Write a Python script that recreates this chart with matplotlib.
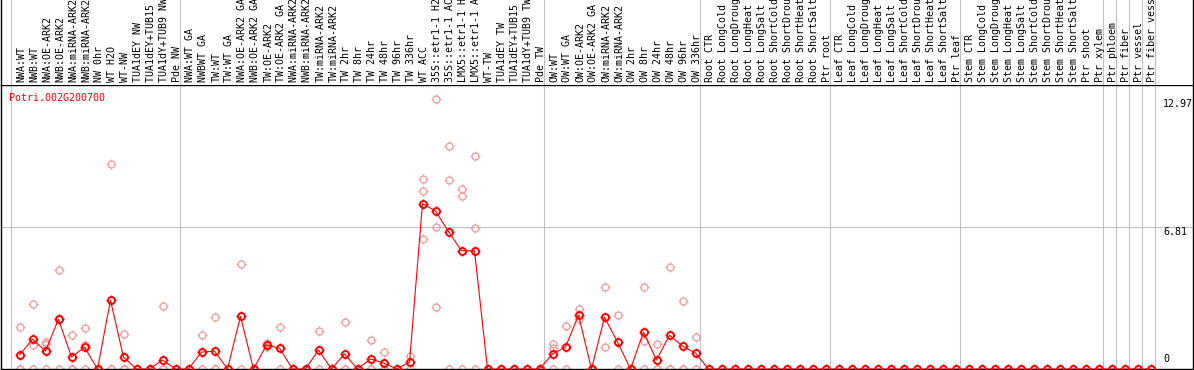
import numpy as np
import matplotlib
matplotlib.use("Agg")
import matplotlib.pyplot as plt
import matplotlib.transforms as mtransforms
from matplotlib.path import Path

# sample labels, one per column
labels = [
    "NWA:WT", "NWB:WT", "NWA:OE-ARK2", "NWB:OE-ARK2", "NWA:miRNA-ARK2", "NWB:miRNA-ARK2",
    "NW 0hr", "WT H2O", "WT-NW", "TUA1dEY NW", "TUA1dEY+TUB15 NW", "TUA1dY+TUB9 NW", "Pde NW",
    "NWA:WT GA", "NWBWT GA", "TW:WT", "TW:WT GA", "NWA:OE-ARK2 GA", "NWB:OE-ARK2 GA",
    "TW:OE-ARK2", "TW:OE-ARK2 GA", "NWA:miRNA-ARK2 GA", "NWB:miRNA-ARK2 GA", "TW:miRNA-ARK2",
    "TW:miRNA-ARK2", "TW 2hr", "TW 8hr", "TW 24hr", "TW 48hr", "TW 96hr", "TW 336hr", "WT ACC",
    "35S::etr1-1 H2O", "35S::etr1-1 ACC", "LMX5::etr1-1 H2O", "LMX5::etr1-1 ACC", "WT-TW",
    "TUA1dEY TW", "TUA1dEY+TUB15 TW", "TUA1dY+TUB9 TW", "Pde TW",
    "OW:WT", "OW:WT GA", "OW:OE-ARK2", "OW:OE-ARK2 GA", "OW:miRNA-ARK2", "OW:miRNA-ARK2",
    "OW 2hr", "OW 8hr", "OW 24hr", "OW 48hr", "OW 96hr", "OW 336hr",
    "Root CTR", "Root LongCold", "Root LongDrought", "Root LongHeat", "Root LongSalt",
    "Root ShortCold", "Root ShortDrought", "Root ShortHeat", "Root ShortSalt", "Ptr root",
    "Leaf CTR", "Leaf LongCold", "Leaf LongDrought", "Leaf LongHeat", "Leaf LongSalt",
    "Leaf ShortCold", "Leaf ShortDrought", "Leaf ShortHeat", "Leaf ShortSalt", "Ptr leaf",
    "Stem CTR", "Stem LongCold", "Stem LongDrought", "Stem LongHeat", "Stem LongSalt",
    "Stem ShortCold", "Stem ShortDrought", "Stem ShortHeat", "Stem ShortSalt", "Ptr shoot",
    "Ptr xylem", "Ptr phloem", "Ptr fiber", "Ptr vessel", "Ptr fiber vessel",
]

# first column of each group (last entry closes the final group)
group_starts = [0, 13, 41, 53, 63, 73, 84, 85, 86, 87, 88]

# mean expression per sample
means = [0.67, 1.43, 0.86, 2.39, 0.57, 1.05, 0, 3.30, 0.57, 0, 0, 0.43, 0,
         0, 0.81, 0.86, 0, 2.53, 0, 1.15, 1.00, 0, 0, 0.91, 0, 0.72, 0, 0.48,
         0.29, 0, 0.33, 7.93, 7.58, 6.59, 5.67, 5.67, 0, 0, 0, 0, 0,
         0.72, 1.05, 2.58, 0, 2.48, 1.29, 0, 1.77, 0.43, 1.62, 1.10, 0.76] + [0] * 35

# individual replicates per sample
reps = [
    [2.01, 0, 0], [3.11, 1.13, 0], [1.29, 1.19, 0], [4.76, 2.41, 0], [1.62, 0, 0],
    [1.96, 1.15, 0], [0, 0, 0], [9.84, 0, 0], [1.67, 0, 0], [0, 0], [0, 0],
    [3.01, 0, 0], [0, 0],
    [0, 0], [1.62, 0], [2.48, 0, 0], [0, 0], [5.02, 0], [0, 0], [1.24, 1.06],
    [2.01, 0], [0, 0], [0, 0], [1.82, 0], [0, 0], [2.25, 0, 0], [0, 0],
    [1.39, 0, 0], [0.81, 0, 0], [0, 0], [0.62, 0], [9.12, 8.55, 6.21],
    [12.97, 6.83, 2.96], [10.70, 9.08, 0], [8.65, 8.31, 0], [10.22, 6.78, 0],
    [0, 0], [0, 0], [0, 0], [0, 0], [0, 0],
    [1.19, 1.00, 0], [2.05, 0], [2.87, 2.39], [0, 0], [3.92, 1.05], [2.58, 0],
    [0, 0], [3.92, 1.34, 0], [1.19, 0, 0], [4.87, 0, 0], [3.25, 0, 0], [1.53, 0],
] + [[0]] * 35

gene = "Potri.002G200700"

W, H = 1194, 370
fig = plt.figure(figsize=(W / 100, H / 100), dpi=100)

# pixel geometry: plot from y=85 to y=369, header above
ax = fig.add_axes([1 / W, 1 / H, 1192 / W, 284 / H])
axh = fig.add_axes([1 / W, 285 / H, 1192 / W, 85 / H])

# column i sits at pixel 19.5 + 13*i
x0 = (1 - 19.5) / 13
x1 = (1193 - 19.5) / 13
xs = np.arange(len(labels))

# four short ticks drawn around the circle markers
tick_mk = Path([(0, 1), (0, 1.4), (0, -1), (0, -1.4), (1, 0), (1.4, 0), (-1, 0), (-1.4, 0)],
               [Path.MOVETO, Path.LINETO] * 4)
CIRC_MS = 5.0
TICK_MS = CIRC_MS * 1.4

vmax = max(max(r) for r in reps)
top = vmax * 1.05
mid = top / 2

gray = "#c0c0c0"
for k in group_starts:
    ax.axvline(k - 8.6 / 13, color=gray, lw=0.8, zorder=1)
    axh.axvline(k - 8.6 / 13, color=gray, lw=0.8, zorder=1)
ax.axhline(mid, color=gray, lw=0.8, zorder=1)

pink = "#f2a0a0"
for i, r in enumerate(reps):
    ax.plot([i] * len(r), r, linestyle="none", marker="o", ms=CIRC_MS,
            mfc="none", mec=pink, mew=1.0, zorder=2)
    ax.plot([i] * len(r), r, linestyle="none", marker=tick_mk, ms=TICK_MS,
            mec=pink, mew=0.9, zorder=2)

ax.plot(xs, means, color="red", lw=0.8, marker="o", ms=CIRC_MS,
        mfc="none", mec="red", mew=1.4, zorder=3)
ax.plot(xs, means, linestyle="none", marker=tick_mk, ms=TICK_MS,
        mec="red", mew=1.0, zorder=3)

ax.set_xlim(x0, x1)
ax.set_ylim(0, top)
ax.set_xticks([])
ax.set_yticks([])
for s in ax.spines.values():
    s.set_color("black")
    s.set_linewidth(1.0)

mono = "DejaVu Sans Mono"
ax.text(0.007, 0.972, gene, transform=ax.transAxes, color="red", fontsize=7.2,
        family=mono, ha="left", va="top")

trans = mtransforms.blended_transform_factory(ax.transAxes, ax.transData)
rx = (1163 - 1) / 1192
ax.text(rx, vmax, "%.2f" % vmax, transform=trans, fontsize=7.2, family=mono,
        ha="left", va="top")
ax.text(rx, mid, "%.2f" % mid, transform=trans, fontsize=7.2, family=mono,
        ha="left", va="top")
ax.text(rx, 0.25, "0", transform=trans, fontsize=7.2, family=mono,
        ha="left", va="bottom")

axh.set_xlim(x0, x1)
axh.set_ylim(0, 1)
axh.set_xticks([])
axh.set_yticks([])
axh.spines["top"].set_visible(False)
axh.spines["bottom"].set_visible(False)
axh.spines["left"].set_linewidth(1.0)
axh.spines["right"].set_linewidth(1.0)
for i, lab in enumerate(labels):
    axh.text(i + 0.15, 0.03, lab, rotation=90, ha="center", va="bottom",
             fontsize=7.2, family=mono, clip_on=False)

fig.savefig("out.png", dpi=100)
